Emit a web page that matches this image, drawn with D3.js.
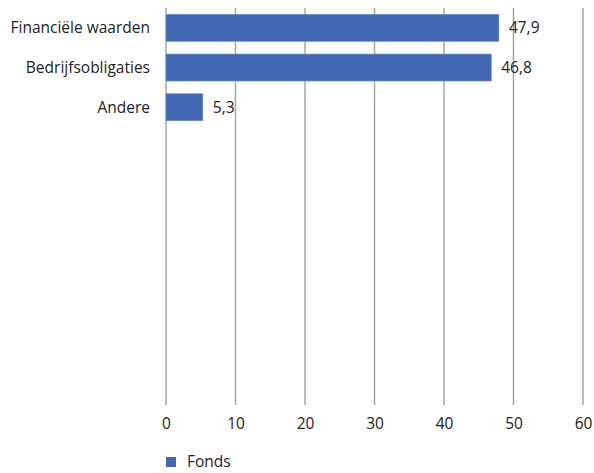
<!DOCTYPE html>
<html>
<head>
<meta charset="utf-8">
<script src="https://cdn.jsdelivr.net/npm/d3@7"></script>
<style>
  body { margin: 0; background: #fff; }
  text { font-family: "Open Sans", "Noto Sans", sans-serif; fill: #222; }
</style>
</head>
<body>
<div id="chart"></div>
<script>
// data
var categories = ["Financiële waarden", "Bedrijfsobligaties", "Andere"];
var fondsValues = [47.9, 46.8, 5.3];
var xTicks = [0, 10, 20, 30, 40, 50, 60];
var seriesName = "Fonds";
var slotCount = 10; // chart reserves room for 10 rows, only 3 are filled

var W = 594, H = 473;
var margin = {top: 8, left: 166, right: 11, bottom: 68};
var fs = 15.5;

var svg = d3.select("#chart").append("svg").attr("width", W).attr("height", H);

var x = d3.scaleLinear()
  .domain([0, 60])
  .range([margin.left, W - margin.right]);

var y = d3.scaleBand()
  .domain(d3.range(slotCount))
  .range([margin.top, H - margin.bottom])
  .paddingInner(0.32)
  .paddingOuter(0.16);

var fmt = function(v) { return String(v).replace(".", ","); };

// vertical grid
svg.append("g").selectAll("line")
  .data(xTicks)
  .enter().append("line")
  .attr("x1", d => x(d)).attr("x2", d => x(d))
  .attr("y1", margin.top).attr("y2", H - margin.bottom)
  .attr("stroke", "#a6a6a6")
  .attr("stroke-width", 1.5);

// x axis labels
var xAxis = svg.append("g")
  .attr("transform", `translate(0,${H - margin.bottom})`)
  .call(d3.axisBottom(x).tickValues(xTicks).tickSize(0).tickPadding(13));
xAxis.select(".domain").remove();
xAxis.selectAll("text").attr("font-size", fs).attr("font-family", "Open Sans, Noto Sans, sans-serif").attr("fill", "#222");

var rows = categories.map((c, i) => ({cat: c, value: fondsValues[i], slot: i}));

// bars
svg.append("g").selectAll("rect")
  .data(rows)
  .enter().append("rect")
  .attr("x", x(0))
  .attr("y", d => y(d.slot))
  .attr("width", d => x(d.value) - x(0))
  .attr("height", y.bandwidth())
  .attr("fill", "#4268b3")
  .attr("stroke", "#6f8fc9")
  .attr("stroke-width", 0.6);

// category labels
svg.append("g").selectAll("text")
  .data(rows)
  .enter().append("text")
  .attr("x", margin.left - 16)
  .attr("y", d => y(d.slot) + y.bandwidth() / 2)
  .attr("dy", "0.35em")
  .attr("text-anchor", "end")
  .attr("font-size", fs)
  .text(d => d.cat);

// value labels
svg.append("g").selectAll("text")
  .data(rows)
  .enter().append("text")
  .attr("x", d => x(d.value) + 10)
  .attr("y", d => y(d.slot) + y.bandwidth() / 2)
  .attr("dy", "0.35em")
  .attr("font-size", fs)
  .text(d => fmt(d.value));

// legend
var lg = svg.append("g").attr("transform", `translate(${margin.left},457)`);
lg.append("rect").attr("width", 10).attr("height", 10).attr("fill", "#4268b3");
lg.append("text").attr("x", 21).attr("y", 5).attr("dy", "0.35em").attr("font-size", fs).text(seriesName);
</script>
</body>
</html>
